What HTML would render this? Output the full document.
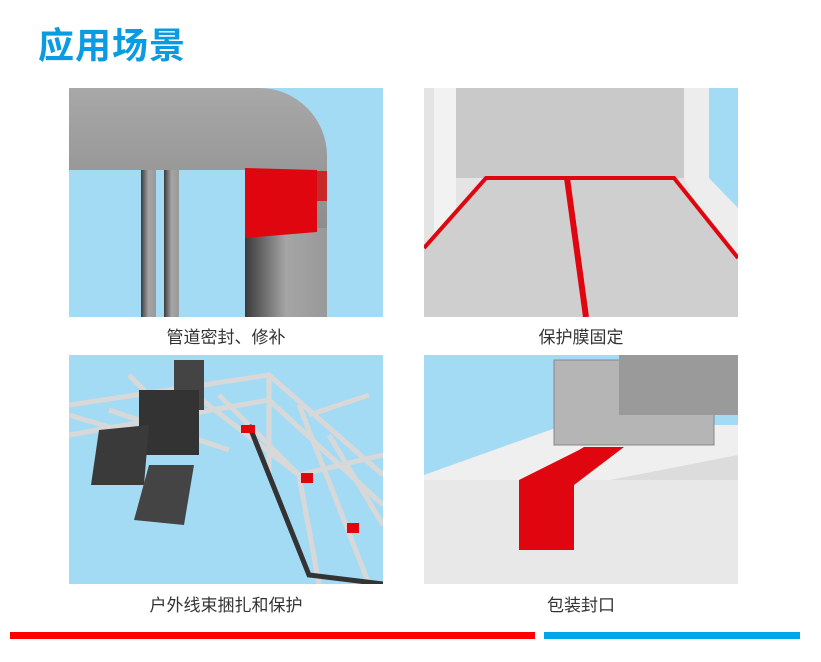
<!DOCTYPE html>
<html><head><meta charset="utf-8"><style>
body{margin:0;width:821px;height:662px;background:#fff;position:relative;overflow:hidden;font-family:"Liberation Sans","Noto Sans CJK SC",sans-serif}
.t{position:absolute;left:38px;top:17px;font-size:36px;font-weight:bold;color:#0a9be0;letter-spacing:1px}
.p{position:absolute;width:314px;height:229px;overflow:hidden}
.c{position:absolute;width:314px;text-align:center;font-size:17px;color:#333}
</style></head><body>
<div class="t">应用场景</div>

<svg class="p" style="left:69px;top:88px" viewBox="0 0 314 229">
<defs><linearGradient id="h" x1="0" y1="0" x2="0" y2="1"><stop offset="0" stop-color="#a8a8a8"/><stop offset=".6" stop-color="#8e8e8e"/><stop offset="1" stop-color="#454545"/></linearGradient>
<linearGradient id="v" x1="0" y1="0" x2="1" y2="0"><stop offset="0" stop-color="#3a3a3a"/><stop offset=".5" stop-color="#a5a5a5"/><stop offset="1" stop-color="#999"/></linearGradient></defs>
<rect width="314" height="229" fill="#a3dbf5"/>
<rect x="72" y="80" width="15" height="149" fill="url(#v)"/><rect x="95" y="80" width="15" height="149" fill="url(#v)"/>
<path d="M0 0H190A68 68 0 0 1 258 68V229H176V82H0Z" fill="url(#h)"/>
<rect x="176" y="140" width="82" height="89" fill="url(#v)"/>
<path d="M176 80L248 82V144L176 150Z" fill="#e0060f"/><rect x="248" y="83" width="10" height="30" fill="#c8282a"/>
</svg>
<div class="c" style="left:69px;top:323px">管道密封、修补</div>

<svg class="p" style="left:424px;top:88px" viewBox="0 0 314 229">
<rect width="314" height="229" fill="#e4e4e4"/>
<rect x="30" y="0" width="230" height="90" fill="#c9c9c9"/>
<rect x="10" y="0" width="22" height="170" fill="#f2f2f2"/>
<path d="M260 0H314V200L260 90Z" fill="#ededed"/><path d="M285 0H314V120L285 90Z" fill="#a3dbf5"/>
<path d="M0 160L62 90H250L314 170V229H0Z" fill="#cfcfcf"/>
<path d="M0 160L62 90H250L314 170" fill="none" stroke="#e0060f" stroke-width="4"/>
<path d="M143 90L162 229" stroke="#e0060f" stroke-width="6"/>
</svg>
<div class="c" style="left:424px;top:323px">保护膜固定</div>

<svg class="p" style="left:69px;top:355px" viewBox="0 0 314 229">
<rect width="314" height="229" fill="#a3dbf5"/>
<g stroke="#d8d8d8" stroke-width="5" fill="none">
<path d="M0 50L200 20L314 120M0 80L200 45L314 150M0 60L100 90M40 55L160 95M120 35L230 120L250 229M200 20L200 120M230 50L300 229M260 80L314 170"/>
<path d="M150 40L230 120L314 100M100 60L60 20M240 60L300 40"/></g>
<path d="M180 70L240 220L314 229" stroke="#333" stroke-width="5" fill="none"/>
<rect x="172" y="70" width="14" height="8" fill="#e0060f"/><rect x="232" y="118" width="12" height="10" fill="#e0060f"/><rect x="278" y="168" width="12" height="10" fill="#e0060f"/>
<rect x="105" y="5" width="30" height="50" fill="#444"/>
<rect x="70" y="35" width="60" height="65" fill="#333"/>
<path d="M30 75L80 70L75 130L22 130Z" fill="#3a3a3a"/><path d="M80 110L125 110L115 170L65 165Z" fill="#444"/>
</svg>
<div class="c" style="left:69px;top:591px">户外线束捆扎和保护</div>

<svg class="p" style="left:424px;top:355px" viewBox="0 0 314 229">
<rect width="314" height="229" fill="#a3dbf5"/>
<path d="M0 120L140 70H314V229H0Z" fill="#dcdcdc"/>
<path d="M0 120L140 70H314V100L160 130H0Z" fill="#efefef"/>
<rect x="0" y="125" width="314" height="104" fill="#e8e8e8"/>
<rect x="130" y="5" width="160" height="85" fill="#b5b5b5" stroke="#888"/>
<rect x="195" y="0" width="119" height="60" fill="#9a9a9a"/>
<path d="M160 92L200 92L150 130V195H95V125L155 95Z" fill="#e0060f"/>
</svg>
<div class="c" style="left:424px;top:591px">包装封口</div>

<div style="position:absolute;left:10px;top:632px;width:525px;height:7px;background:#ff0000"></div>
<div style="position:absolute;left:544px;top:632px;width:256px;height:7px;background:#00a6e6"></div>
</body></html>
